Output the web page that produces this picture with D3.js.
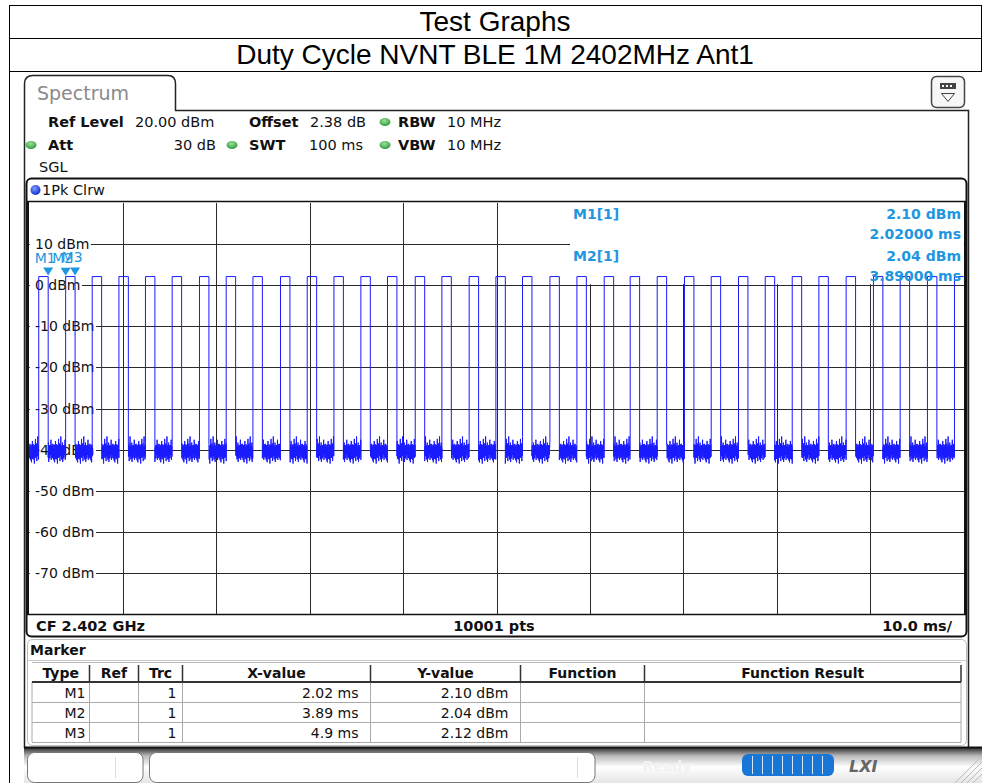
<!DOCTYPE html>
<html>
<head>
<meta charset="utf-8">
<script src="https://cdn.jsdelivr.net/npm/d3@7"></script>
<style>
  html, body { margin: 0; padding: 0; background: #fff; }
  svg { display: block; }
</style>
</head>
<body>
<div id="chart"></div>
<script>
// pulse rising edges (ms); width taken from M2 -> M3
const RISE_MS = [1.01, 3.89, 6.73, 9.59, 12.43, 15.29, 18.21, 21.07, 23.93, 26.88,
  29.74, 32.60, 35.48, 38.33, 41.30, 44.15, 47.07, 49.93, 52.78, 55.71,
  58.60, 61.52, 64.30, 67.19, 70.11, 72.97, 75.89, 78.75, 81.64, 84.49,
  87.41, 90.33, 93.19, 96.11, 99.00];
const PULSE_WIDTH_MS = 1.01;
const PULSE_LEVEL_DBM = 2.1;

// noise floor samples (dBm), estimated from the band around -40 dBm
const NOISE_DBM = [-39.2, -42.1, -38.6, -41.8, -39.5, -42.6, -38.9, -41.2, -43.1, -38.8,
  -41.6, -37.9, -42.3, -39.4, -41.9, -38.7, -42.4, -39.1, -43.4, -38.9,
  -41.9, -39.6, -37.4, -42.0, -38.8, -41.7, -38.5, -42.8, -39.3, -41.5,
  -36.8, -41.6, -39.0, -42.4, -39.1, -41.9, -38.3, -43.0, -39.5, -42.1,
  -38.9, -42.1, -38.9, -41.3, -39.7, -37.6, -42.5, -39.2, -41.7, -38.7];
const NOISE_STEP_MS = 0.03;

const X_GRID_MS = [10, 20, 30, 40, 50, 60, 70, 80, 90];
const Y_TICKS_DBM = [10, 0, -10, -20, -30, -40, -50, -60, -70];

const MARKER_NAMES = ["M1", "M2", "M3"];
const MARKER_TRC = [1, 1, 1];
const MARKER_X_MS = [2.02, 3.89, 4.9];
const MARKER_Y_DBM = [2.10, 2.04, 2.12];

const TABLE_HEADERS = ["Type", "Ref", "Trc", "X-value", "Y-value", "Function", "Function Result"];

const W = 982, H = 783;
const FONT = "DejaVu Sans, Verdana, sans-serif";
const MK_BLUE = "#1e96e0";

const svg = d3.select("#chart").append("svg")
  .attr("width", W).attr("height", H)
  .style("font-family", FONT);

const defs = svg.append("defs");
const led = defs.append("radialGradient").attr("id", "led").attr("cx", "45%").attr("cy", "35%").attr("r", "65%");
led.append("stop").attr("offset", "0%").attr("stop-color", "#9be09b");
led.append("stop").attr("offset", "100%").attr("stop-color", "#2f9a3a");
const bdot = defs.append("radialGradient").attr("id", "bdot").attr("cx", "40%").attr("cy", "35%").attr("r", "65%");
bdot.append("stop").attr("offset", "0%").attr("stop-color", "#7f9bff");
bdot.append("stop").attr("offset", "100%").attr("stop-color", "#1030d0");
const bar = defs.append("linearGradient").attr("id", "sbar").attr("x1", 0).attr("y1", 0).attr("x2", 0).attr("y2", 1);
bar.append("stop").attr("offset", "0%").attr("stop-color", "#222");
bar.append("stop").attr("offset", "25%").attr("stop-color", "#bbb");
bar.append("stop").attr("offset", "55%").attr("stop-color", "#fff");
bar.append("stop").attr("offset", "100%").attr("stop-color", "#e4e4e4");

// ---- report header table ----
const hdr = svg.append("g").attr("stroke", "#000").attr("stroke-width", 1);
hdr.append("line").attr("x1", 9).attr("x2", 982).attr("y1", 5.5).attr("y2", 5.5);
hdr.append("line").attr("x1", 9).attr("x2", 982).attr("y1", 38.5).attr("y2", 38.5);
hdr.append("line").attr("x1", 9).attr("x2", 982).attr("y1", 71.5).attr("y2", 71.5);
hdr.append("line").attr("x1", 9.5).attr("x2", 9.5).attr("y1", 5).attr("y2", H);
hdr.append("line").attr("x1", 981.5).attr("x2", 981.5).attr("y1", 5).attr("y2", 72);

svg.append("text").attr("x", 495).attr("y", 31).attr("text-anchor", "middle")
  .style("font-family", "Liberation Sans, Arial, sans-serif").style("font-size", "28px")
  .text("Test Graphs");
svg.append("text").attr("x", 495).attr("y", 64).attr("text-anchor", "middle")
  .style("font-family", "Liberation Sans, Arial, sans-serif").style("font-size", "28px")
  .text("Duty Cycle NVNT BLE 1M 2402MHz Ant1");

// ---- instrument window ----
svg.append("path")
  .attr("d", "M24.5,748 V84 Q24.5,75.5 33,75.5 H168 Q175.5,75.5 175.5,84 V110.5 H968.5 V748")
  .attr("fill", "none").attr("stroke", "#222").attr("stroke-width", 1.5);
svg.append("text").attr("x", 37).attr("y", 100).style("font-size", "19px").attr("fill", "#8a8a8a")
  .text("Spectrum");

// top right button
const btn = svg.append("g");
btn.append("rect").attr("x", 931.5).attr("y", 76.5).attr("width", 33).attr("height", 31).attr("rx", 5)
  .attr("fill", "#f6f6f6").attr("stroke", "#444").attr("stroke-width", 1.5);
btn.append("rect").attr("x", 940).attr("y", 83).attr("width", 16).attr("height", 6).attr("fill", "#444");
[942, 946, 950].forEach(x => btn.append("rect").attr("x", x).attr("y", 85).attr("width", 2).attr("height", 2).attr("fill", "#fff"));
btn.append("path").attr("d", "M941.5,93.5 H954.5 L948,101.5 Z").attr("fill", "none").attr("stroke", "#444");

// settings lines
const info = svg.append("g").style("font-size", "14.5px").attr("fill", "#111");
function txt(x, y, s, bold, anchor) {
  info.append("text").attr("x", x).attr("y", y).attr("dominant-baseline", "central")
    .attr("text-anchor", anchor || "start").style("font-weight", bold ? "bold" : "normal").text(s);
}
function ledDot(x, y) {
  info.append("ellipse").attr("cx", x).attr("cy", y).attr("rx", 5.5).attr("ry", 4).attr("fill", "url(#led)");
}
txt(48, 122, "Ref Level", true); txt(135, 122, "20.00 dBm");
txt(249, 122, "Offset", true); txt(310, 122, "2.38 dB");
ledDot(385, 122); txt(398, 122, "RBW", true); txt(447, 122, "10 MHz");
ledDot(31, 145); txt(48, 145, "Att", true); txt(216, 145, "30 dB", false, "end");
ledDot(232, 145); txt(249, 145, "SWT", true); txt(363, 145, "100 ms", false, "end");
ledDot(385, 145); txt(398, 145, "VBW", true); txt(447, 145, "10 MHz");
txt(39, 167, "SGL");

// ---- diagram ----
const plot = { left: 29.3, right: 963.8, top: 203, bottom: 614 };
const x = d3.scaleLinear().domain([0, 100]).range([plot.left, plot.right]);
const y = d3.scaleLinear().domain([-80, 20]).range([plot.bottom, plot.top]);

svg.append("circle").attr("cx", 35.5).attr("cy", 190).attr("r", 5).attr("fill", "url(#bdot)");
svg.append("text").attr("x", 42).attr("y", 190).attr("dominant-baseline", "central")
  .style("font-size", "14.5px").attr("fill", "#111").text("1Pk Clrw");

// grid through the axis generators
const gx = svg.append("g").attr("transform", `translate(0,${plot.top})`)
  .call(d3.axisBottom(x).tickValues(X_GRID_MS).tickSize(plot.bottom - plot.top).tickFormat(""));
const gy = svg.append("g").attr("transform", `translate(${plot.left},0)`)
  .call(d3.axisRight(y).tickValues(Y_TICKS_DBM).tickSize(plot.right - plot.left).tickFormat(""));
[gx, gy].forEach(g => {
  g.select(".domain").remove();
  g.selectAll(".tick line").attr("stroke", "#2a2a2a").attr("stroke-width", 1)
    .attr("shape-rendering", "crispEdges");
});

// y labels with white backing
const yl = svg.append("g").style("font-size", "14px");
Y_TICKS_DBM.forEach(v => {
  const t = yl.append("text").attr("x", 35).attr("y", y(v)).attr("dominant-baseline", "central")
    .attr("fill", "#111").text(`${v} dBm`);
  const bb = t.node().getBBox();
  yl.insert("rect", "text").attr("x", plot.left + 0.5).attr("y", y(v) - 2)
    .attr("width", bb.x + bb.width + 1 - plot.left).attr("height", 4).attr("fill", "#fff");
});

// marker readout box
svg.append("rect").attr("x", 570).attr("y", plot.top).attr("width", plot.right - 570)
  .attr("height", y(0) - plot.top - 1).attr("fill", "#fff");

// trace
const pts = [];
let ni = 0, t = 0;
const nextNoise = () => NOISE_DBM[ni++ % NOISE_DBM.length];
RISE_MS.forEach(r => {
  for (; t < r; t += NOISE_STEP_MS) pts.push([t, nextNoise()]);
  pts.push([r, nextNoise()]);
  pts.push([r, PULSE_LEVEL_DBM]);
  const f = Math.min(r + PULSE_WIDTH_MS, 100);
  pts.push([f, PULSE_LEVEL_DBM]);
  if (f < 100) pts.push([f, nextNoise()]);
  t = f + NOISE_STEP_MS;
});
for (; t <= 100; t += NOISE_STEP_MS) pts.push([t, nextNoise()]);

svg.append("path").datum(pts)
  .attr("d", d3.line().x(d => x(d[0])).y(d => y(d[1])))
  .attr("fill", "none").attr("stroke", "#1a1aff").attr("stroke-width", 1);

// markers on the trace
const mk = svg.append("g").attr("fill", MK_BLUE);
MARKER_NAMES.forEach((m, i) => {
  const mx = x(MARKER_X_MS[i]), my = y(MARKER_Y_DBM[i]);
  mk.append("path").attr("d", `M${mx - 5},${my - 9} H${mx + 5} L${mx},${my - 1} Z`);
  mk.append("text").attr("x", mx - 3).attr("y", my - 19).attr("text-anchor", "middle")
    .attr("dominant-baseline", "central").style("font-size", "14px").text(m);
});

// marker readout
const ro = svg.append("g").attr("fill", MK_BLUE).style("font-size", "14px").style("font-weight", "bold");
[0, 1].forEach(i => {
  const y0 = 214 + i * 42;
  ro.append("text").attr("x", 573).attr("y", y0).attr("dominant-baseline", "central").text(`${MARKER_NAMES[i]}[1]`);
  ro.append("text").attr("x", 961).attr("y", y0).attr("dominant-baseline", "central").attr("text-anchor", "end")
    .text(`${MARKER_Y_DBM[i].toFixed(2)} dBm`);
  ro.append("text").attr("x", 961).attr("y", y0 + 20).attr("dominant-baseline", "central").attr("text-anchor", "end")
    .text(`${MARKER_X_MS[i].toFixed(5)} ms`);
});

// diagram frame
svg.append("rect").attr("x", 26.5).attr("y", 178.5).attr("width", 940).attr("height", 458).attr("rx", 5)
  .attr("fill", "none").attr("stroke", "#111").attr("stroke-width", 2);
svg.append("line").attr("x1", 27).attr("x2", 966).attr("y1", 201.5).attr("y2", 201.5).attr("stroke", "#111").attr("stroke-width", 1.5);
svg.append("line").attr("x1", 27).attr("x2", 966).attr("y1", 614.5).attr("y2", 614.5).attr("stroke", "#111").attr("stroke-width", 1.5);
svg.append("line").attr("x1", 28).attr("x2", 28).attr("y1", 201).attr("y2", 615).attr("stroke", "#111").attr("stroke-width", 2);
svg.append("line").attr("x1", 965).attr("x2", 965).attr("y1", 201).attr("y2", 615).attr("stroke", "#111").attr("stroke-width", 2);

const bot = svg.append("g").style("font-size", "14.5px").style("font-weight", "bold").attr("fill", "#111");
bot.append("text").attr("x", 36).attr("y", 626).attr("dominant-baseline", "central").text("CF 2.402 GHz");
bot.append("text").attr("x", 494).attr("y", 626).attr("dominant-baseline", "central").attr("text-anchor", "middle").text("10001 pts");
bot.append("text").attr("x", 952).attr("y", 626).attr("dominant-baseline", "central").attr("text-anchor", "end").text("10.0 ms/");

// ---- marker table ----
svg.append("rect").attr("x", 27.5).attr("y", 639.5).attr("width", 939).attr("height", 106).attr("rx", 5)
  .attr("fill", "none").attr("stroke", "#bbb");
svg.append("text").attr("x", 30).attr("y", 650).attr("dominant-baseline", "central")
  .style("font-size", "14px").style("font-weight", "bold").attr("fill", "#111").text("Marker");
svg.append("line").attr("x1", 28).attr("x2", 966).attr("y1", 660.5).attr("y2", 660.5).attr("stroke", "#ccc");

const COLS = [32, 89.5, 138.5, 182.5, 370.5, 520.5, 644.5, 961];
const ROW_Y = [662, 682, 702, 722, 742];
const tb = svg.append("g").style("font-size", "14px").attr("fill", "#111");
ROW_Y.slice(2).forEach(ry => tb.append("line").attr("x1", COLS[0]).attr("x2", COLS[7]).attr("y1", ry + 0.5).attr("y2", ry + 0.5).attr("stroke", "#aaa"));
tb.append("line").attr("x1", COLS[0]).attr("x2", COLS[7]).attr("y1", 662.5).attr("y2", 662.5).attr("stroke", "#bbb");
COLS.forEach((cx, i) => {
  tb.append("line").attr("x1", cx).attr("x2", cx).attr("y1", 682).attr("y2", 742).attr("stroke", "#aaa");
  if (i > 0) tb.append("line").attr("x1", cx).attr("x2", cx).attr("y1", 665).attr("y2", 682).attr("stroke", "#333").attr("stroke-width", 1.5);
});
tb.append("line").attr("x1", COLS[0]).attr("x2", COLS[7]).attr("y1", 682).attr("y2", 682).attr("stroke", "#333").attr("stroke-width", 2);
TABLE_HEADERS.forEach((h, i) => {
  tb.append("text").attr("x", (COLS[i] + COLS[i + 1]) / 2).attr("y", 672.5).attr("dominant-baseline", "central")
    .attr("text-anchor", "middle").style("font-weight", "bold").text(h);
});
MARKER_NAMES.forEach((m, i) => {
  const cy = (ROW_Y[i + 1] + ROW_Y[i + 2]) / 2 + 0.5;
  const cell = (cx, s) => tb.append("text").attr("x", cx).attr("y", cy).attr("dominant-baseline", "central")
    .attr("text-anchor", "end").text(s);
  cell(COLS[1] - 4, m);
  cell(COLS[3] - 6, MARKER_TRC[i]);
  cell(COLS[4] - 12, `${MARKER_X_MS[i]} ms`);
  cell(COLS[5] - 12, `${MARKER_Y_DBM[i].toFixed(2)} dBm`);
});

// ---- status bar ----
svg.append("rect").attr("x", 24).attr("y", 747).attr("width", W - 24).attr("height", H - 747).attr("fill", "url(#sbar)");
svg.append("line").attr("x1", 24).attr("x2", W).attr("y1", 747.5).attr("y2", 747.5).attr("stroke", "#111").attr("stroke-width", 2);
[[27.5, 115.5], [149.5, 445.5]].forEach(([bx, bw]) => {
  svg.append("rect").attr("x", bx).attr("y", 752.5).attr("width", bw).attr("height", 30).attr("rx", 7)
    .attr("fill", "#fff").attr("stroke", "#777");
});
[115.5, 577.5].forEach(sx => svg.append("line").attr("x1", sx).attr("x2", sx).attr("y1", 757).attr("y2", 778).attr("stroke", "#ddd"));
svg.append("text").attr("x", 667).attr("y", 766).attr("text-anchor", "middle").attr("dominant-baseline", "central")
  .style("font-size", "14px").style("font-weight", "bold").attr("fill", "#f2f2f2").text("Ready");
svg.append("rect").attr("x", 742).attr("y", 754).attr("width", 92).attr("height", 22).attr("rx", 6).attr("fill", "#1876d6");
d3.range(8).forEach(k => svg.append("line").attr("x1", 752.5 + k * 10).attr("x2", 752.5 + k * 10)
  .attr("y1", 756).attr("y2", 774).attr("stroke", "#d8e8fa").attr("stroke-width", 1));
svg.append("text").attr("x", 849).attr("y", 766).attr("dominant-baseline", "central")
  .style("font-size", "16px").style("font-weight", "bold").style("font-style", "italic").attr("fill", "#666").text("LXI");
[0, 6, 12, 18].forEach(o => svg.append("line").attr("x1", 955 + o).attr("y1", H).attr("x2", 982).attr("y2", 756 + o)
  .attr("stroke", "#bbb"));
</script>
</body>
</html>
